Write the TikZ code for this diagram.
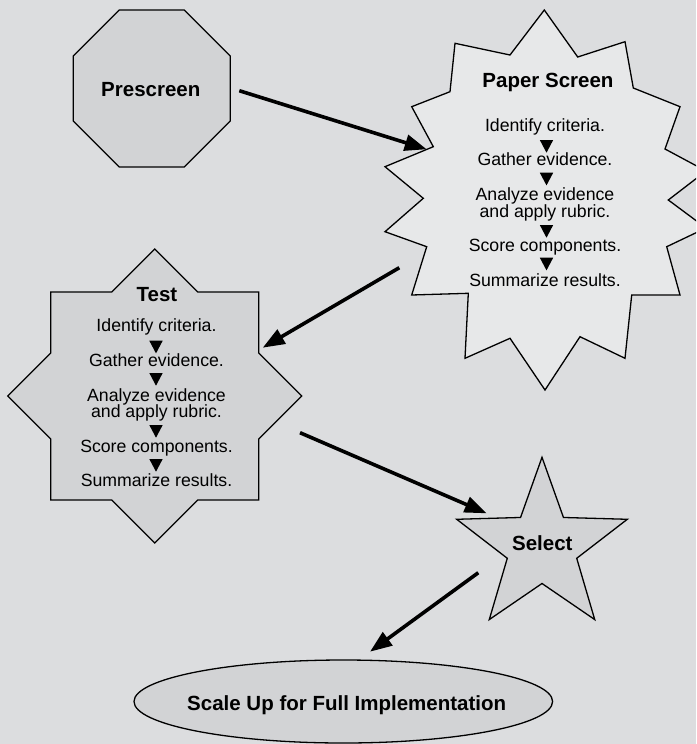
\documentclass[tikz,border=0pt]{standalone}
\usepackage{fontspec}
\setmainfont{Liberation Sans}
\usetikzlibrary{arrows.meta}
\definecolor{bgcol}{RGB}{220,221,223}
\definecolor{shapefill}{RGB}{210,211,213}
\definecolor{burstfill}{RGB}{231,232,233}
\begin{document}
\begin{tikzpicture}[x=1pt,y=-1pt,
  outline/.style={draw=black,line width=1.3pt,line join=miter,fill=shapefill},
  titletext/.style={font=\fontsize{20.5}{22}\selectfont\bfseries,anchor=base,inner sep=0pt},
  steptext/.style={font=\fontsize{17.7}{19}\selectfont,anchor=base,inner sep=0pt},
  flow/.style={line width=3.6pt,-{Triangle[length=22pt,width=16pt]}}]

% page and background
\useasboundingbox (0,0) rectangle (696,744);
\fill[bgcol] (0,0) rectangle (696,744);
\clip (0,0) rectangle (696,744);

% Prescreen octagon
\draw[outline] (151.7,88.5) ++(-32.5,-78.5) -- ++(65,0) -- ++(46,46) -- ++(0,65)
  -- ++(-46,46) -- ++(-65,0) -- ++(-46,-46) -- ++(0,-65) -- cycle;
\node[titletext] (prescreen) at (150.8,96) {Prescreen};

% Paper Screen starburst
\draw[outline,fill=burstfill] (544.3,10) -- (577.7,57) -- (625,41.7) -- (633.3,88)
  -- (680,106.7) -- (665,149) -- (706,171) -- (668.3,200) -- (706,228)
  -- (666.7,246.7) -- (680,295) -- (631.7,295) -- (625,358.3) -- (580,336.7)
  -- (545,390) -- (510,338.3) -- (465,358.3) -- (468.3,293.3) -- (411.7,295)
  -- (426.7,246.7) -- (385,231.7) -- (423.3,198.3) -- (385,166.7) -- (433.3,146.7)
  -- (411.7,106.7) -- (450,91.7) -- (455,43.3) -- (510,55) -- cycle;
\node[titletext] (paper) at (548,87.3) {Paper Screen};
\node[steptext] (p1) at (545,131.7) {Identify criteria.};
\node[steptext] (p2) at (545,165) {Gather evidence.};
\node[steptext] (p3) at (545,200.7) {Analyze evidence};
\node[steptext] (p3b) at (545,217.3) {and apply rubric.};
\node[steptext] (p4) at (545,251.7) {Score components.};
\node[steptext] (p5) at (545,286.7) {Summarize results.};
\foreach \t in {140,172.7,225,257.7}
  \fill (546.5-6.7,\t) -- (546.5+6.7,\t) -- (546.5,\t+12.7) -- cycle;

% Test eight-pointed star
\begin{scope}[shift={(154.7,396)}]
\draw[outline] (0,-147) -- (43,-104) -- (104,-104) -- (104,-43) -- (147,0)
  -- (104,43) -- (104,104) -- (43,104) -- (0,147) -- (-43,104) -- (-104,104)
  -- (-104,43) -- (-147,0) -- (-104,-43) -- (-104,-104) -- (-43,-104) -- cycle;
\end{scope}
\node[titletext] (test) at (157,301.7) {Test};
\node[steptext] (t1) at (156.5,331.7) {Identify criteria.};
\node[steptext] (t2) at (156.5,366) {Gather evidence.};
\node[steptext] (t3) at (156.5,401) {Analyze evidence};
\node[steptext] (t3b) at (156.5,417.7) {and apply rubric.};
\node[steptext] (t4) at (156.5,452.3) {Score components.};
\node[steptext] (t5) at (156.5,486) {Summarize results.};
\foreach \t in {340.7,373,425,459}
  \fill (156-6.7,\t) -- (156+6.7,\t) -- (156,\t+12.7) -- cycle;

% Select five-pointed star
\draw[outline] plot[samples at={0,...,9}] ({542+(mod(\x,2)==0 ? 89.7 : 36.5)*sin(36*\x)},
  {547-(mod(\x,2)==0 ? 89.7 : 36.5)*cos(36*\x)}) -- cycle;
\node[titletext] (select) at (542.3,550) {Select};

% Scale Up ellipse
\draw[outline] (343.3,701.5) ellipse[x radius=209.3,y radius=41.5];
\node[titletext] (scale) at (346.7,710) {Scale Up for Full Implementation};

% connectors
\coordinate (a1s) at (239.3,90.7);  \coordinate (a1e) at (426.7,149.3);
\coordinate (a2s) at (399.3,267.7); \coordinate (a2e) at (262.7,347.7);
\coordinate (a3s) at (300,432.7);   \coordinate (a3e) at (486.7,513.3);
\coordinate (a4s) at (478.3,572.7); \coordinate (a4e) at (370,651.7);
\draw[flow] (a1s) -- (a1e);
\draw[flow] (a2s) -- (a2e);
\draw[flow] (a3s) -- (a3e);
\draw[flow] (a4s) -- (a4e);
\end{tikzpicture}
\end{document}
